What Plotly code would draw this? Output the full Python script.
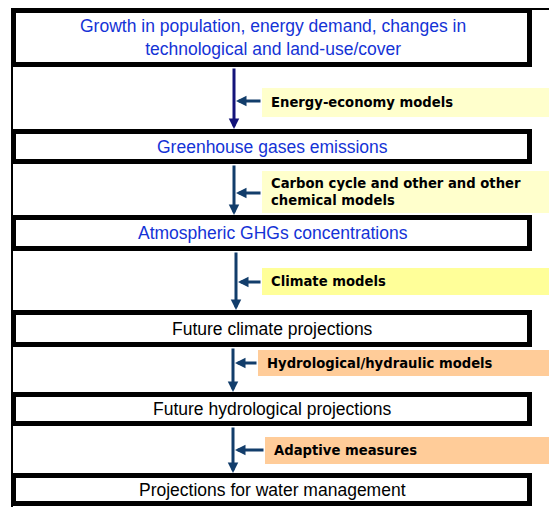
import plotly.graph_objects as go

# Flow content
box_labels = [
    "Growth in population, energy demand, changes in<br>technological and land-use/cover",
    "Greenhouse gases emissions",
    "Atmospheric GHGs concentrations",
    "Future climate projections",
    "Future hydrological projections",
    "Projections for water management",
]
box_text_colors = ["#1433D6", "#1433D6", "#1433D6", "#000000", "#000000", "#000000"]

model_labels = [
    "Energy-economy models",
    "Carbon cycle and other and other<br>chemical models",
    "Climate models",
    "Hydrological/hydraulic models",
    "Adaptive measures",
]
model_fill = ["#FFFFCC", "#FFFFCC", "#FFFF99", "#FFCC99", "#FFCC99"]

# Layout (screen pixel coordinates)
W, H = 549, 507
box_x0, box_x1 = 11, 532
box_y = [(8, 67), (129, 164), (215, 251), (310, 347), (392, 426), (473, 506)]
arrow_x = [234, 234, 236, 233, 233]
label_x0 = [262, 262, 262, 258, 265]
label_y = [(88, 117), (171, 213), (268, 295), (350, 376), (437, 464)]
arrow_y = [101, 193, 282, 363, 450]
vline_col = ["#14147A", "#123D6B", "#123D6B", "#123D6B", "#123D6B"]

fig = go.Figure()
shapes = []
annotations = []

# outer frame lines
shapes.append(dict(type="line", x0=11, x1=W + 20, y0=9, y1=9, line=dict(color="black", width=2)))
shapes.append(dict(type="line", x0=12, x1=12, y0=8, y1=H + 20, line=dict(color="black", width=2)))

lw = 5
for i, (y0, y1) in enumerate(box_y):
    shapes.append(dict(type="rect", x0=box_x0 + lw / 2, x1=box_x1 - lw / 2,
                       y0=y0 + lw / 2, y1=y1 - lw / 2,
                       line=dict(color="black", width=lw), fillcolor="white", layer="above"))
    annotations.append(dict(x=(box_x0 + box_x1) / 2 + 1, y=(y0 + y1) / 2, xref="x", yref="y",
                            text=box_labels[i], showarrow=False,
                            font=dict(family="Liberation Sans, Arial", size=17.5, color=box_text_colors[i]),
                            xanchor="center", yanchor="middle"))

for i, lab in enumerate(model_labels):
    ly0, ly1 = label_y[i]
    shapes.append(dict(type="rect", x0=label_x0[i], x1=W + 20, y0=ly0, y1=ly1,
                       line=dict(width=0), fillcolor=model_fill[i], layer="below"))
    annotations.append(dict(x=label_x0[i] + 7, y=(ly0 + ly1) / 2, xref="x", yref="y",
                            text="<b>" + lab + "</b>", showarrow=False, align="left",
                            font=dict(family="DejaVu Sans", size=13.2, color="black"),
                            xanchor="left", yanchor="middle"))
    # vertical arrow
    top = box_y[i][1]
    bot = box_y[i + 1][0]
    annotations.append(dict(x=arrow_x[i], y=bot, ax=arrow_x[i], ay=top, xref="x", yref="y",
                            axref="x", ayref="y", text="", showarrow=True, arrowhead=2,
                            arrowsize=0.7, arrowwidth=3, arrowcolor=vline_col[i], standoff=0))
    # horizontal arrow
    annotations.append(dict(x=arrow_x[i] + 2, y=arrow_y[i], ax=label_x0[i], ay=arrow_y[i],
                            xref="x", yref="y", axref="x", ayref="y", text="", showarrow=True,
                            arrowhead=2, arrowsize=0.7, arrowwidth=3, arrowcolor="#123D6B", standoff=0))

fig.update_layout(
    width=W, height=H, margin=dict(l=0, r=0, t=0, b=0),
    paper_bgcolor="white", plot_bgcolor="white",
    xaxis=dict(range=[0, W], visible=False, fixedrange=True),
    yaxis=dict(range=[H, 0], visible=False, fixedrange=True),
    shapes=shapes, annotations=annotations, showlegend=False,
)
fig.write_html(
    "out.html",
    config={"displayModeBar": False},
    post_script="document.body.style.margin='0';document.body.style.overflow='hidden';",
)
